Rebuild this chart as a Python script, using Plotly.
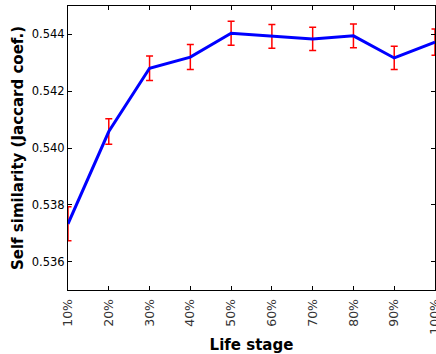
import plotly.graph_objects as go

stages = ["10%", "20%", "30%", "40%", "50%", "60%", "70%", "80%", "90%", "100%"]
similarity = [0.53733, 0.54058, 0.54281, 0.54320, 0.54404, 0.54393, 0.54384, 0.54395, 0.54317, 0.54373]
errors = [0.00060, 0.00045, 0.00043, 0.00044, 0.00042, 0.00042, 0.00041, 0.00042, 0.00041, 0.00046]
y_ticks = [0.536, 0.538, 0.540, 0.542, 0.544]

xpos = list(range(len(stages)))

fig = go.Figure()
fig.add_trace(go.Scatter(
    x=xpos, y=similarity,
    mode="lines",
    line=dict(color="#0000ff", width=3),
    error_y=dict(type="data", array=errors, visible=True,
                 color="#ff0000", thickness=1.5, width=3.5),
    cliponaxis=True,
    showlegend=False,
))

font_family = "DejaVu Sans"
fig.update_layout(
    width=436, height=354,
    margin=dict(l=68, r=1, t=6, b=64),
    paper_bgcolor="white", plot_bgcolor="white",
    font=dict(family=font_family, color="black"),
    xaxis=dict(
        range=[-1e-6, 9 + 1e-6], tickmode="array", tickvals=xpos, ticktext=stages,
        tickangle=-90, tickfont=dict(size=12.5, family=font_family, color="#333"),
        ticklabelstandoff=3, ticklabeloverflow="allow",
        ticks="inside", ticklen=4, tickcolor="black",
        showline=True, linecolor="black", linewidth=1, mirror="allticks",
        showgrid=False, zeroline=False,
        title=dict(text="<b>Life stage</b>", font=dict(size=15, family=font_family), standoff=12),
        automargin=False,
    ),
    yaxis=dict(
        range=[0.535, 0.545], tickmode="array", tickvals=y_ticks,
        ticktext=[f"{v:.3f}" for v in y_ticks],
        tickfont=dict(size=11.5, family=font_family, color="black"),
        ticks="inside", ticklen=4, tickcolor="black",
        showline=True, linecolor="black", linewidth=1, mirror="allticks",
        showgrid=False, zeroline=False,
        title=dict(text="<b>Self similarity (Jaccard coef.)</b>", font=dict(size=15, family=font_family), standoff=4),
        automargin=False,
    ),
)

fig.write_html("out.html")
